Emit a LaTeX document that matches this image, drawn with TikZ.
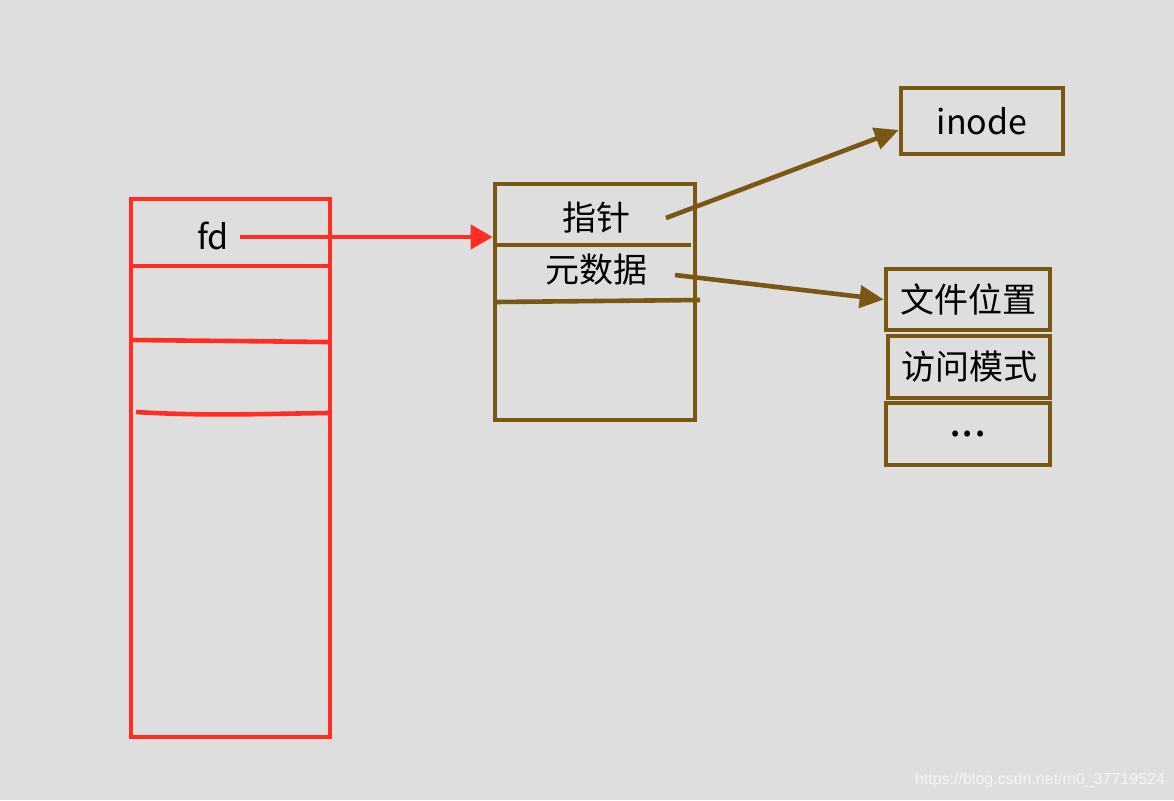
\documentclass[tikz,border=0pt]{standalone}
\usepackage{fontspec}
\setmainfont{Noto Sans CJK SC}
\newfontfamily\wmfont{Liberation Sans}
\usetikzlibrary{arrows.meta}
\definecolor{bgray}{HTML}{DEDEDE}
\definecolor{fdred}{HTML}{FF2D22}
\definecolor{fbrown}{HTML}{7A5712}
\definecolor{wmgray}{HTML}{F5F5F5}

\begin{document}
\begin{tikzpicture}[x=0.5pt, y=-0.5pt,
    lbl/.style={inner sep=0pt, font=\fontsize{17}{20}\selectfont},
    bbox/.style={draw=fbrown, line width=2.3pt, inner sep=0pt, font=\fontsize{17}{20}\selectfont},
    redarr/.style={-{Triangle[length=11pt, width=12pt]}, fdred, line width=2.3pt},
    brarr/.style={-{Triangle[length=12pt, width=11pt]}, fbrown, line width=2.3pt}]
  %--- canvas ---
  \useasboundingbox[fill=bgray] (0,0) rectangle (1174,800);
  %--- fd table (red) ---
  \draw[fdred, line width=2.3pt] (131,199) rectangle (330,737);
  \draw[fdred, line width=2.3pt] (131,266) -- (330,266);
  \draw[fdred, line width=2.3pt] (133,340) -- (328,342);
  \draw[fdred, line width=2.3pt] (136,412) .. controls (200,416) and (260,414) .. (328,413);
  \node[lbl] (fd) at (213,236) {fd};
  \coordinate (fdout) at (240,237);
  %--- open file entry ---
  \node[bbox, minimum width=100pt, minimum height=118pt] (ofile) at (595,302) {};
  \draw[fbrown, line width=2.3pt] (497,245) -- (691,245);
  \draw[fbrown, line width=2.3pt] (495,302) -- (700,300);
  \node[lbl] (ptr) at (596,218) {指针};
  \node[lbl] (meta) at (596,270) {元数据};
  \coordinate (ptrout) at (666,218);
  \coordinate (metaout) at (675,275);
  %--- inode ---
  \node[bbox, minimum width=81pt, minimum height=33pt] (inode) at (982,121) {inode};
  %--- metadata fields ---
  \node[bbox, minimum width=82pt, minimum height=30.5pt] (pos) at (968,299.5) {\raisebox{-2pt}{文件位置}};
  \node[bbox, minimum width=81pt, minimum height=31pt] (mode) at (969,367) {\raisebox{-1.5pt}{访问模式}};
  \node[bbox, minimum width=82pt, minimum height=31pt, font=\fontsize{22}{24}\selectfont] (more) at (968,434) {...};
  %--- arrows ---
  \draw[redarr] (fdout) -- (ofile.west |- fdout);
  \draw[brarr] (ptrout) -- ([yshift=-4.5pt]inode.west);
  \draw[brarr] (metaout) -- (pos.west);
  %--- watermark ---
  \node[wmgray, inner sep=0pt, font=\wmfont\fontsize{8}{9}\selectfont] (wm) at (1040,780) {https://blog.csdn.net/m0\_37719524};
\end{tikzpicture}
\end{document}
